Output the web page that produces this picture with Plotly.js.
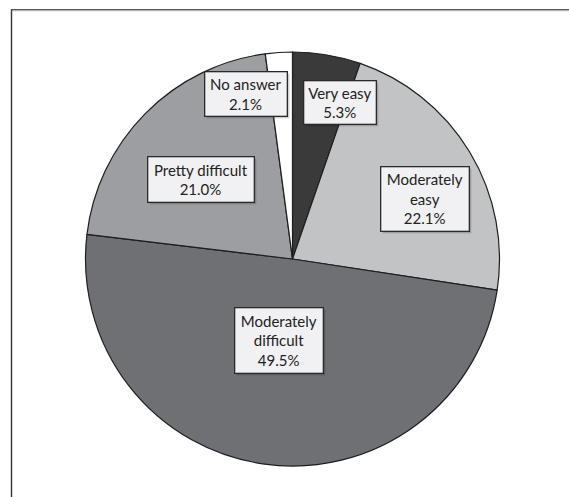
<!DOCTYPE html>
<html>
<head>
<meta charset="utf-8">
<script src="https://cdn.plot.ly/plotly-3.0.1.min.js"></script>
<style>
  html, body { margin: 0; padding: 0; background: #ffffff; }
  #chart { width: 569px; height: 497px; }
</style>
</head>
<body>
<div id="chart"></div>
<script>
// Survey answers: how difficult was it?
const categories = ['Very easy', 'Moderately easy', 'Moderately difficult', 'Pretty difficult', 'No answer'];
const shares = [5.3, 22.1, 49.5, 21.0, 2.1];
const boxHeadings = ['Very easy', 'Moderately<br>easy', 'Moderately<br>difficult', 'Pretty difficult', 'No answer'];

// Styling
const sliceColors = ['#3a3a3a', '#c2c3c5', '#6f7074', '#9d9ea2', '#ffffff'];
const W = 569, H = 497;
const pieCenter = { x: 292.5, y: 259 }, pieRadius = 207;

// Label box centres (page pixels) and box sizes
const boxSpots = [
  { x: 339.5, y: 102, w: 73, h: 44 },
  { x: 424.5, y: 198.5, w: 89, h: 65 },
  { x: 278.5, y: 340, w: 89, h: 66 },
  { x: 200.5, y: 179, w: 107, h: 46 },
  { x: 245.5, y: 94.5, w: 83, h: 45 }
];

const font = { family: 'Lato, "Open Sans", sans-serif', size: 15, color: '#222222' };

const trace = {
  type: 'pie',
  labels: categories,
  values: shares,
  sort: false,
  direction: 'clockwise',
  rotation: 0,
  textinfo: 'none',
  hoverinfo: 'none',
  marker: { colors: sliceColors, line: { color: '#1e1e1e', width: 1.2 } },
  domain: {
    x: [(pieCenter.x - pieRadius) / W, (pieCenter.x + pieRadius) / W],
    y: [(H - pieCenter.y - pieRadius) / H, (H - pieCenter.y + pieRadius) / H]
  },
  showlegend: false
};

const annotations = [];
categories.forEach((c, i) => {
  const s = boxSpots[i];
  const text = boxHeadings[i] + '<br>' + shares[i].toFixed(1) + '%';
  const base = {
    xref: 'paper', yref: 'paper',
    x: s.x / W, y: 1 - s.y / H,
    xanchor: 'center', yanchor: 'middle',
    showarrow: false,
    width: s.w - 4, height: s.h - 4,
    borderpad: 1
  };
  // soft drop shadow behind the box (fixed size, no text)
  annotations.push(Object.assign({}, base, {
    text: '\u00a0',
    xshift: 2, yshift: -2,
    font: font,
    bgcolor: 'rgba(0,0,0,0.18)',
    borderwidth: 1.3, bordercolor: 'rgba(0,0,0,0)'
  }));
  annotations.push(Object.assign({}, base, {
    text: text,
    font: font,
    bgcolor: '#f1f1f3',
    bordercolor: '#2a2a2a',
    borderwidth: 1.3
  }));
});

// Frame running off the right and bottom edges
const shapes = [
  { type: 'line', xref: 'paper', yref: 'paper', x0: 11 / W, x1: 1.02, y0: 1 - 9.6 / H, y1: 1 - 9.6 / H,
    line: { color: '#5a5a5a', width: 1.2 } },
  { type: 'line', xref: 'paper', yref: 'paper', x0: 11 / W, x1: 1.02, y0: 1 - 10.7 / H, y1: 1 - 10.7 / H,
    line: { color: '#a8a8a8', width: 1 } },
  { type: 'line', xref: 'paper', yref: 'paper', x0: 11.5 / W, x1: 11.5 / W, y0: -0.02, y1: 1 - 9.6 / H,
    line: { color: '#333333', width: 1.4 } }
];

const layout = {
  width: W, height: H,
  margin: { l: 0, r: 0, t: 0, b: 0 },
  paper_bgcolor: '#ffffff',
  plot_bgcolor: '#ffffff',
  annotations: annotations,
  shapes: shapes
};

Plotly.newPlot('chart', [trace], layout, { displayModeBar: false, staticPlot: true });
</script>
</body>
</html>
